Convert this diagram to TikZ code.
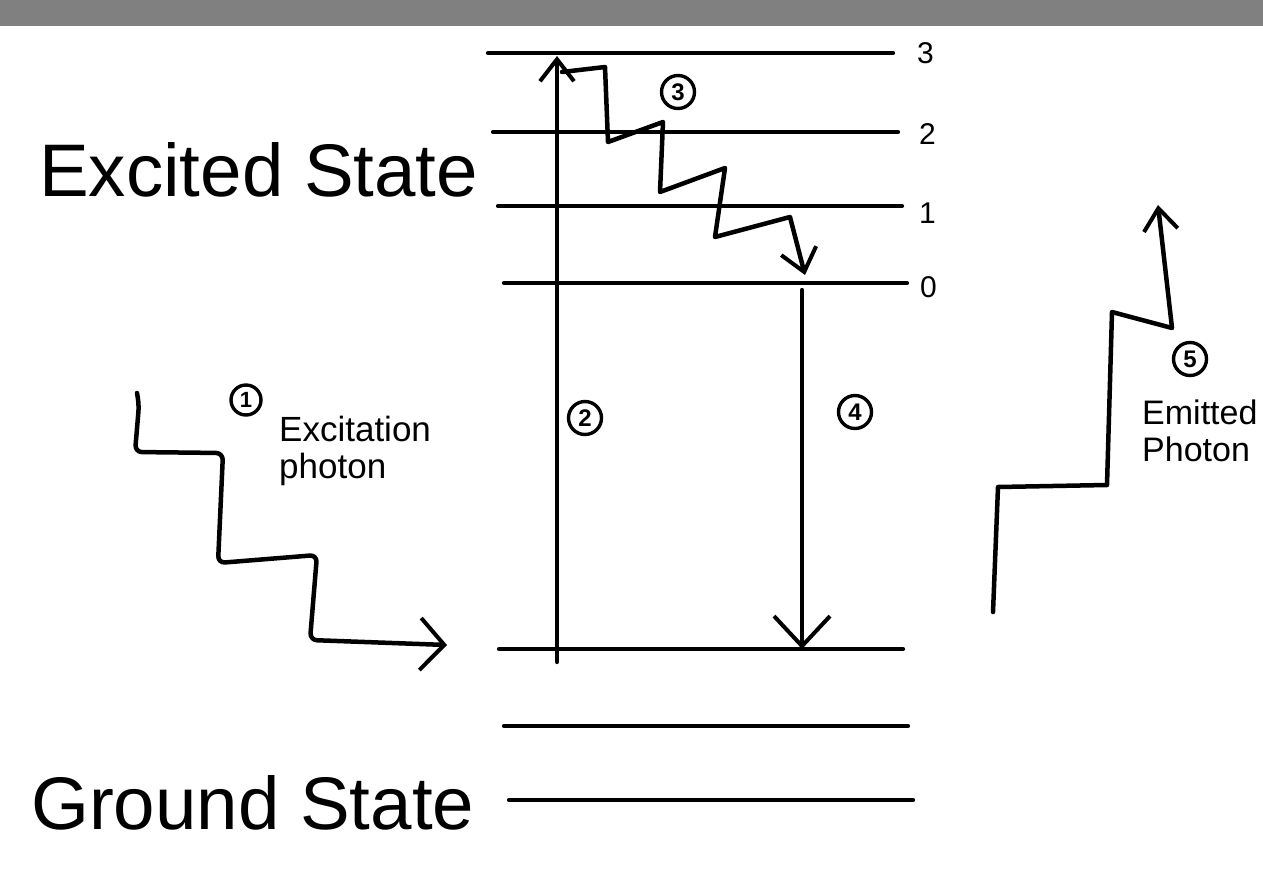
\documentclass[tikz,border=0pt]{standalone}
\usepackage{fontspec}
\setmainfont{Liberation Sans}
\usetikzlibrary{arrows.meta}
\definecolor{bargray}{RGB}{128,128,128}
\begin{document}
\begin{tikzpicture}[x=1pt,y=-1pt,
  level/.style={line width=4.2pt, line cap=round},
  wave/.style={line width=4.5pt, line join=round, line cap=round},
  arr/.style={line width=4.2pt, line cap=round},
  circnum/.style={circle, draw, line width=3.4pt, inner sep=0pt, minimum size=33pt, font=\fontsize{24}{24}\selectfont\bfseries},
  bigtxt/.style={anchor=base west, inner sep=0pt, font=\fontsize{74.5}{74.5}\selectfont},
  midtxt/.style={anchor=base west, inner sep=0pt, font=\fontsize{35}{35}\selectfont},
  numtxt/.style={anchor=base west, inner sep=0pt, font=\fontsize{30}{30}\selectfont}]
\clip (0,0) rectangle (1263,873);
\fill[white] (0,0) rectangle (1263,873);
\fill[bargray] (0,0) rectangle (1263,26);

% energy levels
\coordinate (l3a) at (488,53);  \coordinate (l3b) at (893,53);
\coordinate (l2a) at (493,132); \coordinate (l2b) at (898,132);
\coordinate (l1a) at (498,206); \coordinate (l1b) at (902,206);
\coordinate (l0a) at (504,283); \coordinate (l0b) at (907,283);
\coordinate (g0a) at (499,649); \coordinate (g0b) at (903,649);
\coordinate (g1a) at (504,726); \coordinate (g1b) at (908,726);
\coordinate (g2a) at (509,800); \coordinate (g2b) at (913,800);
\draw[level] (l3a) -- (l3b);
\draw[level] (l2a) -- (l2b);
\draw[level] (l1a) -- (l1b);
\draw[level] (l0a) -- (l0b);
\draw[level] (g0a) -- (g0b);
\draw[level] (g1a) -- (g1b);
\draw[level] (g2a) -- (g2b);

\node[numtxt] (n3) at (917,63) {3};
\node[numtxt] (n2) at (919,144) {2};
\node[numtxt] (n1) at (919,223) {1};
\node[numtxt] (n0) at (920,297) {0};

% big labels
\node[bigtxt] (exc) at (39,196) {Excited State};
\node[bigtxt] (gnd) at (31,829) {Ground State};

% arrow 2 (absorption)
\coordinate (a2s) at (557,662);
\coordinate (a2e) at (557,56);
\draw[arr, -{Straight Barb[length=22pt,width=34pt,line width=4pt]}] (a2s) -- (a2e);

% zigzag 3 (vibrational relaxation)
\coordinate (z0) at (562,72);
\coordinate (z9) at (805,275);
\draw[wave, -{Straight Barb[length=22pt,width=36pt,line width=4pt]}]
  (z0) -- (605,67) -- (608,142) -- (663,122) -- (660,192) -- (725,168)
  -- (715,237) -- (790,217) -- (z9);

% arrow 4 (emission)
\coordinate (a4s) at (802,290);
\coordinate (a4e) at (802,649);
\draw[arr, -{Straight Barb[length=30pt,width=56pt,line width=4pt]}] (a4s) -- (a4e);

% excitation photon
\coordinate (p1s) at (137,393);
\coordinate (p1e) at (447,645);
\draw[wave, rounded corners=7pt, -{Straight Barb[length=24pt,width=52pt,line width=4pt]}]
  (p1s) -- (139,405) -- (135,452) -- (223,453) -- (218,563) -- (317,555)
  -- (310,640) -- (p1e);

% emitted photon
\coordinate (p5s) at (993,612);
\coordinate (p5e) at (1158,205);
\draw[wave, -{Straight Barb[length=22pt,width=34pt,line width=4pt]}]
  (p5s) -- (998,487) -- (1107,485) -- (1112,312) -- (1172,328) -- (p5e);

% circled numbers
\node[circnum, minimum size=30pt, font=\fontsize{22}{22}\selectfont\bfseries] (c1) at (246,400) {1};
\node[circnum] (c2) at (585,418) {2};
\node[circnum] (c3) at (678,92) {3};
\node[circnum] (c4) at (855,412) {4};
\node[circnum] (c5) at (1190,359) {5};

% photon labels
\node[midtxt] (t1a) at (279,441) {Excitation};
\node[midtxt] (t1b) at (279,478) {photon};
\node[midtxt, font=\fontsize{34}{34}\selectfont] (t5a) at (1142,424) {Emitted};
\node[midtxt, font=\fontsize{34}{34}\selectfont] (t5b) at (1142,461) {Photon};
\end{tikzpicture}
\end{document}
